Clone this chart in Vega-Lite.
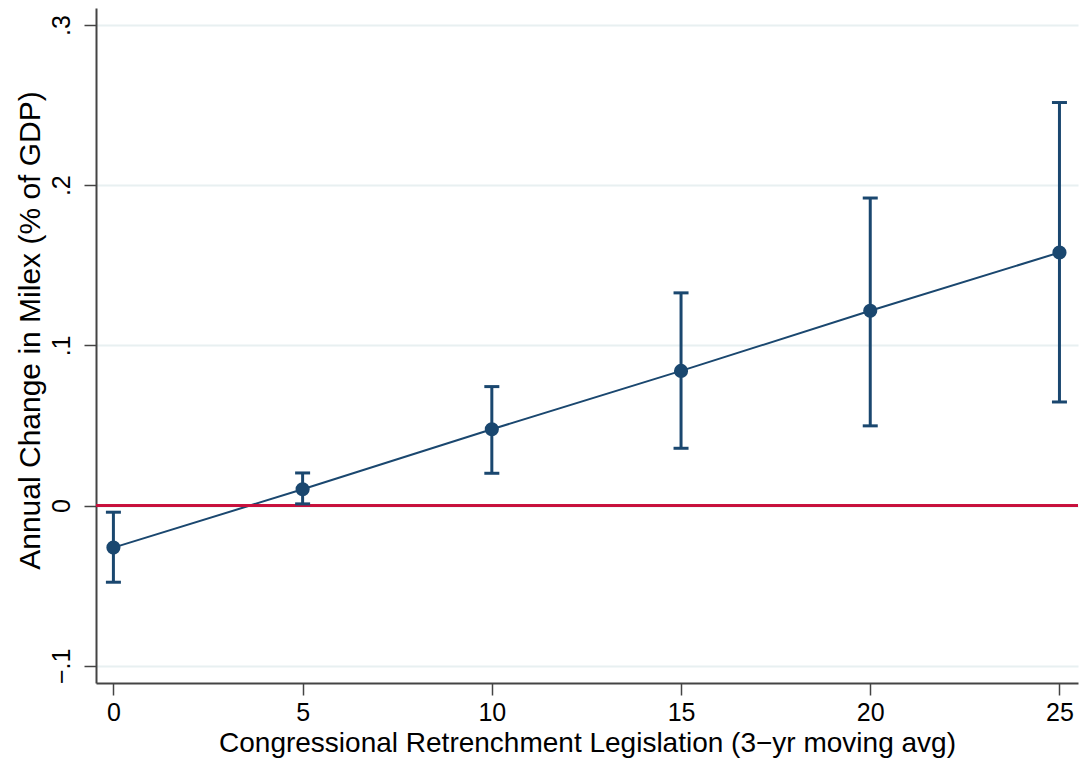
{
  "$schema": "https://vega.github.io/schema/vega-lite/v6.json",
  "width": 982,
  "height": 675,
  "autosize": {"type": "none"},
  "padding": {"left": 96, "top": 8, "right": 1, "bottom": 76},
  "background": "white",
  "config": {"view": {"stroke": null}, "font": "Liberation Sans"},
  "data": {"values": [
    {"x": 0, "y": -0.0262, "lo": -0.0478, "hi": -0.0041},
    {"x": 5, "y": 0.0102, "lo": 0.0011, "hi": 0.0204},
    {"x": 10, "y": 0.0477, "lo": 0.0202, "hi": 0.0743},
    {"x": 15, "y": 0.0841, "lo": 0.0358, "hi": 0.1328},
    {"x": 20, "y": 0.1216, "lo": 0.0498, "hi": 0.192},
    {"x": 25, "y": 0.158, "lo": 0.0647, "hi": 0.2516}
  ]},
  "layer": [
    {
      "mark": {"type": "line", "color": "#1a476f", "strokeWidth": 2},
      "encoding": {
        "x": {"field": "x", "type": "quantitative",
          "scale": {"domain": [-0.46, 25.49], "nice": false, "zero": false},
          "axis": {"values": [0, 5, 10, 15, 20, 25], "title": "Congressional Retrenchment Legislation (3\u2212yr moving avg)",
            "titleFontSize": 28, "titleFontWeight": "normal", "titleColor": "#000", "titlePadding": 4,
            "labelFontSize": 25, "labelColor": "#000", "labelPadding": 5,
            "domainColor": "#444", "domainWidth": 2, "tickColor": "#444", "tickWidth": 1.5, "tickSize": 12, "grid": false}},
        "y": {"field": "y", "type": "quantitative",
          "scale": {"domain": [-0.1107, 0.3106], "nice": false, "zero": false},
          "axis": {"values": [-0.1, 0, 0.1, 0.2, 0.3], "title": "Annual Change in Milex (% of GDP)",
            "labelExpr": "datum.value == 0 ? '0' : replace(format(datum.value, '.1f'), '0.', '.')",
            "titleFontSize": 30, "titleFontWeight": "normal", "titleColor": "#000", "titlePadding": 4, "titleY": 322,
            "labelFontSize": 25, "labelColor": "#000", "labelAngle": -90, "labelAlign": "center", "labelBaseline": "bottom", "labelPadding": 10,
            "domainColor": "#444", "domainWidth": 2, "tickColor": "#444", "tickWidth": 1.5, "tickSize": 12,
            "grid": true, "gridColor": "#e8f0f1", "gridWidth": 2}}
      }
    },
    {
      "mark": {"type": "rule", "color": "#c8103c", "strokeWidth": 2.5},
      "encoding": {"y": {"datum": 0, "type": "quantitative"}}
    },
    {
      "mark": {"type": "rule", "color": "#1a476f", "strokeWidth": 3},
      "encoding": {
        "x": {"field": "x", "type": "quantitative"},
        "y": {"field": "lo", "type": "quantitative"},
        "y2": {"field": "hi"}
      }
    },
    {
      "mark": {"type": "tick", "orient": "horizontal", "color": "#1a476f", "opacity": 1, "size": 15, "thickness": 3},
      "encoding": {
        "x": {"field": "x", "type": "quantitative"},
        "y": {"field": "lo", "type": "quantitative"}
      }
    },
    {
      "mark": {"type": "tick", "orient": "horizontal", "color": "#1a476f", "opacity": 1, "size": 15, "thickness": 3},
      "encoding": {
        "x": {"field": "x", "type": "quantitative"},
        "y": {"field": "hi", "type": "quantitative"}
      }
    },
    {
      "mark": {"type": "point", "filled": true, "opacity": 1, "color": "#1a476f", "size": 200},
      "encoding": {
        "x": {"field": "x", "type": "quantitative"},
        "y": {"field": "y", "type": "quantitative"}
      }
    }
  ]
}
